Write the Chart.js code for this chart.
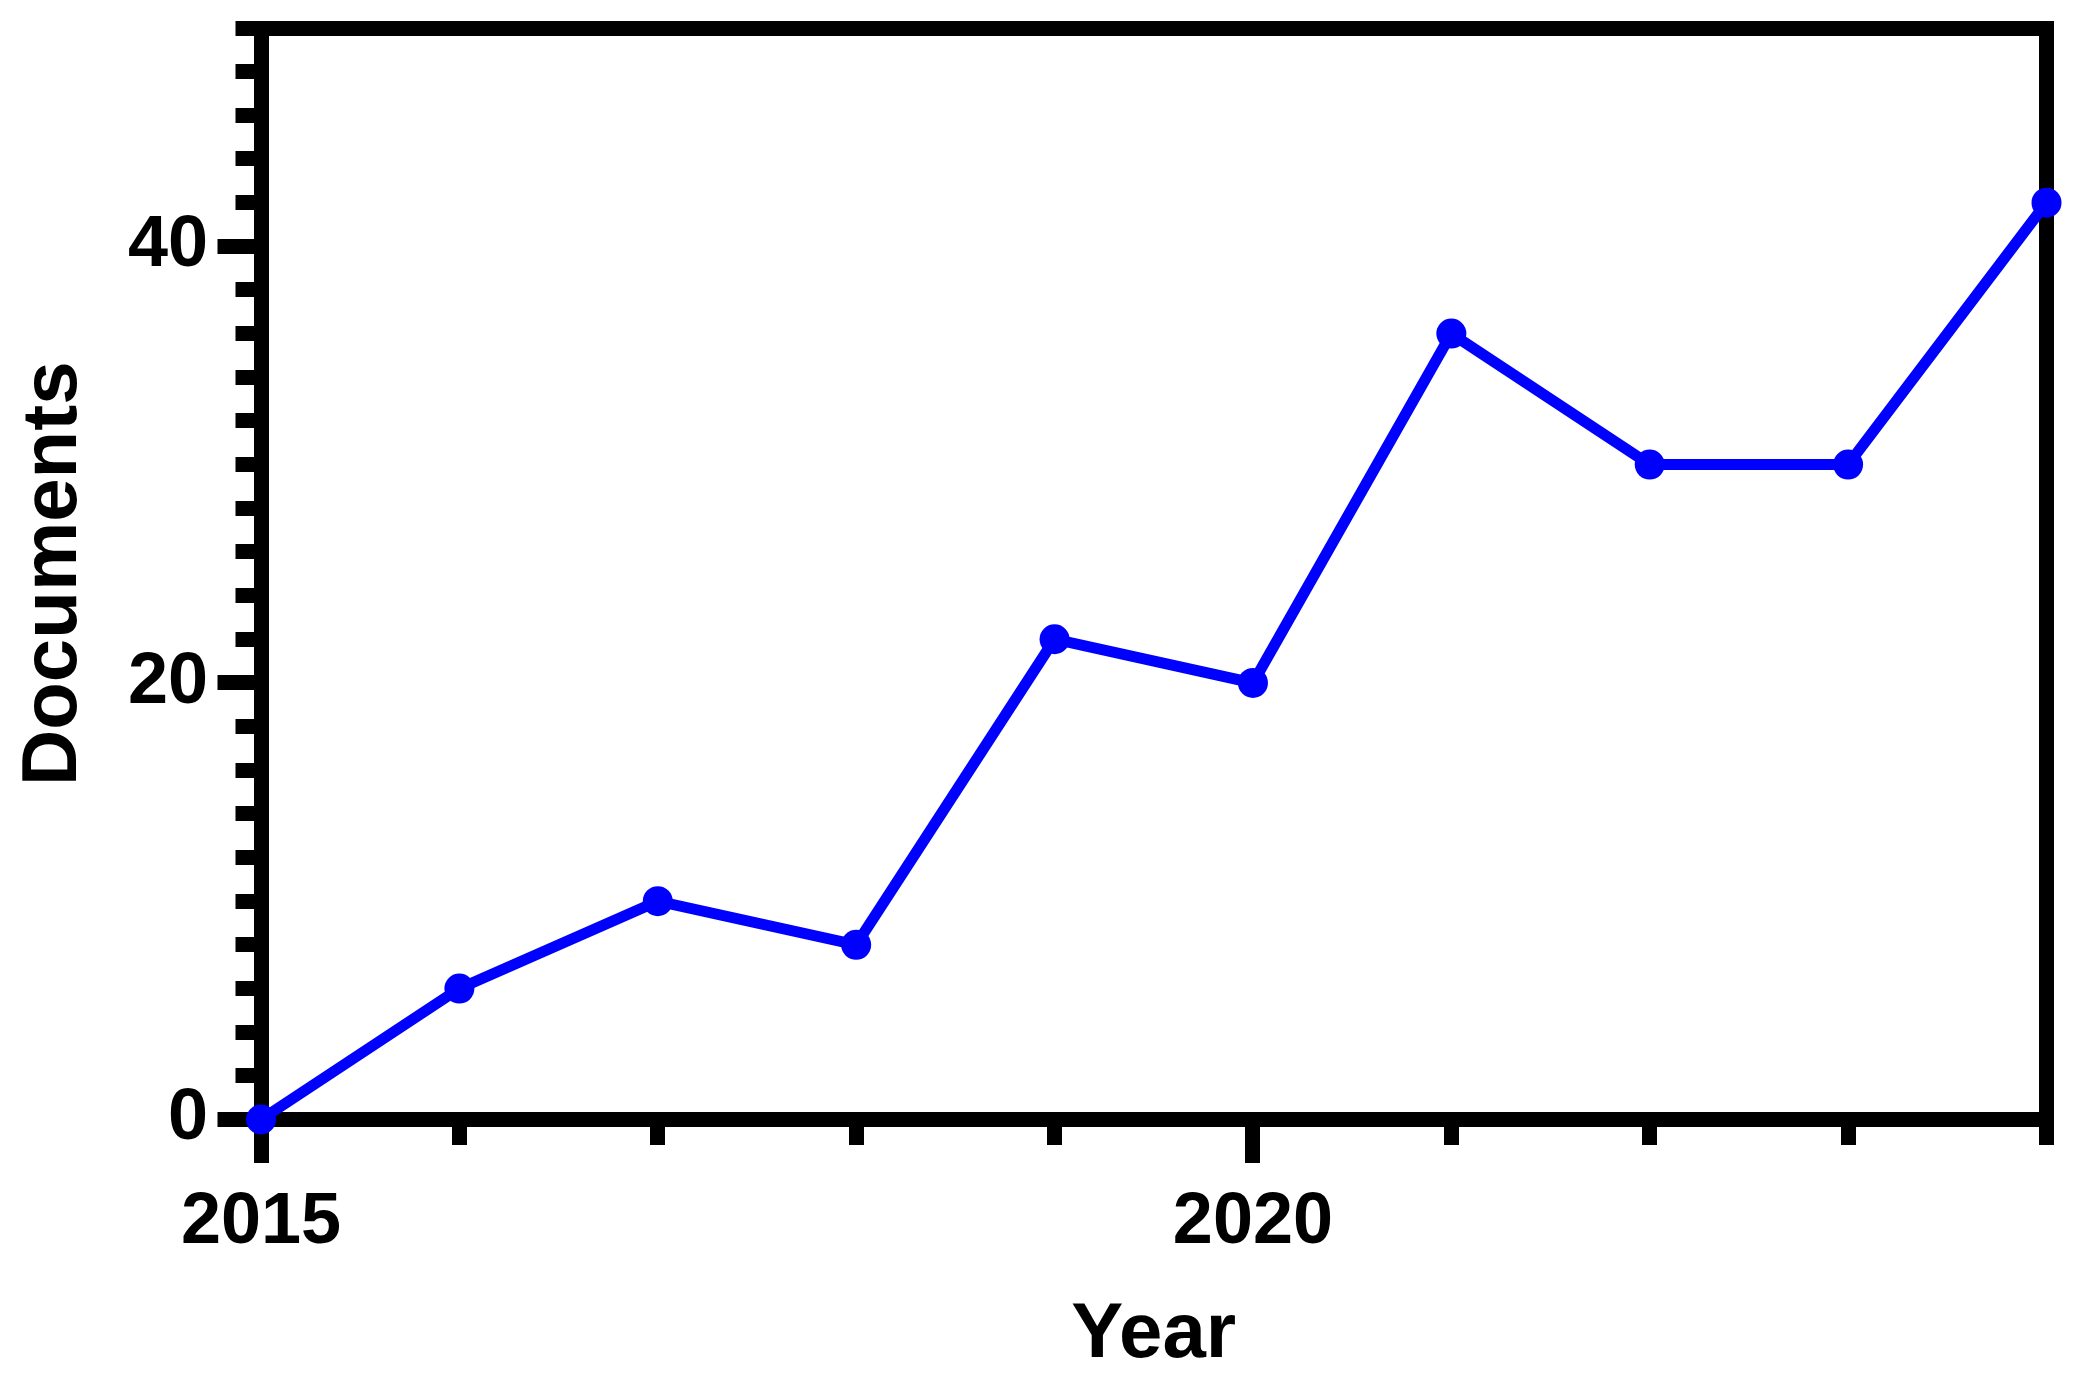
<!DOCTYPE html>
<html><head><meta charset="utf-8">
<script src="https://cdn.jsdelivr.net/npm/chart.js@4/dist/chart.umd.min.js"></script>
<style>html,body{margin:0;padding:0;background:#fff;} #wrap{position:relative;width:2075px;height:1388px;}</style>
</head><body><div id="wrap"><canvas id="c"></canvas></div>
<script>
const years = [2015, 2016, 2017, 2018, 2019, 2020, 2021, 2022, 2023, 2024];
const documents = [0, 6, 10, 8, 22, 20, 36, 30, 30, 42];
const xLabelTicks = [2015, 2020];
const yLabelTicks = [0, 20, 40];
const xTitle = 'Year';
const yTitle = 'Documents';

const FONT = "'Liberation Sans', Arial, Helvetica, sans-serif";
const AXIS_W = 15, MINOR = 25.5, MAJOR = 43.5;

const majorTicks = {
  id: 'majorTicks',
  beforeDatasetsDraw(chart) {
    const {ctx, chartArea, scales} = chart;
    const x = scales.x, y = scales.y;
    const align = p => Math.round(p - AXIS_W / 2) + AXIS_W / 2;
    ctx.save();
    ctx.strokeStyle = '#000';
    ctx.lineWidth = AXIS_W;
    ctx.lineCap = 'butt';
    const yb = align(chartArea.bottom);
    xLabelTicks.forEach(v => {
      const px = align(x.getPixelForValue(v));
      ctx.beginPath(); ctx.moveTo(px, yb); ctx.lineTo(px, chartArea.bottom + MAJOR); ctx.stroke();
    });
    const xl = align(chartArea.left);
    yLabelTicks.forEach(v => {
      const py = align(y.getPixelForValue(v));
      ctx.beginPath(); ctx.moveTo(xl, py); ctx.lineTo(chartArea.left - MAJOR, py); ctx.stroke();
    });
    ctx.restore();
  }
};

const tickFont = {family: FONT, size: 72, weight: 'bold'};
const titleFont = {family: FONT, size: 78, weight: 'bold'};

new Chart(document.getElementById('c'), {
  type: 'line',
  data: {
    datasets: [{
      data: years.map((yr, i) => ({x: yr, y: documents[i]})),
      borderColor: '#0000FF',
      backgroundColor: '#0000FF',
      borderWidth: 11,
      pointRadius: 15,
      pointHoverRadius: 15,
      pointBorderWidth: 0,
      pointBackgroundColor: '#0000FF',
      tension: 0,
      fill: false,
      clip: false
    }]
  },
  options: {
    responsive: true,
    maintainAspectRatio: false,
    animation: false,
    devicePixelRatio: 1,
    events: [],
    layout: {padding: {top: 28, right: 28.5, left: 0, bottom: 0}},
    plugins: {legend: {display: false}, tooltip: {enabled: false}},
    scales: {
      x: {
        type: 'linear', axis: 'x', position: 'bottom', min: 2015, max: 2024,
        ticks: {stepSize: 1, autoSkip: false, maxRotation: 0, minRotation: 0, padding: 35, color: '#000', font: tickFont,
          callback: v => xLabelTicks.includes(v) ? String(v) : ''},
        grid: {display: true, drawOnChartArea: false, drawTicks: true, tickLength: MINOR, lineWidth: AXIS_W, tickWidth: AXIS_W, tickColor: '#000', color: '#000'},
        border: {display: true, width: AXIS_W, color: '#000'},
        title: {display: true, text: xTitle, color: '#000', font: titleFont, padding: {top: 0, bottom: 6}},
        afterFit: s => { s.height = 268.5; s.paddingLeft = 0; s.paddingRight = 0; }
      },
      y: {
        type: 'linear', axis: 'y', position: 'left', min: 0, max: 50,
        ticks: {stepSize: 2, autoSkip: false, padding: 27.5, color: '#000', font: tickFont,
          callback: v => yLabelTicks.includes(v) ? String(v) : ''},
        grid: {display: true, drawOnChartArea: false, drawTicks: true, tickLength: MINOR, lineWidth: AXIS_W, tickWidth: AXIS_W, tickColor: '#000', color: '#000'},
        border: {display: true, width: AXIS_W, color: '#000'},
        title: {display: true, text: yTitle, color: '#000', font: titleFont, padding: {top: 8, bottom: 0}},
        afterFit: s => { s.width = 261; s.paddingTop = 0; s.paddingBottom = 0; }
      },
      x2: {
        type: 'linear', axis: 'x', position: 'top', min: 2015, max: 2024,
        ticks: {display: false},
        grid: {display: false, lineWidth: AXIS_W},
        border: {display: true, width: AXIS_W, color: '#000'},
        afterFit: s => { s.height = 0; s.paddingLeft = 0; s.paddingRight = 0; }
      },
      y2: {
        type: 'linear', axis: 'y', position: 'right', min: 0, max: 50,
        ticks: {display: false},
        grid: {display: false, lineWidth: AXIS_W},
        border: {display: true, width: AXIS_W, color: '#000'},
        afterFit: s => { s.width = 0; s.paddingTop = 0; s.paddingBottom = 0; }
      }
    }
  },
  plugins: [majorTicks]
});
</script>
</body></html>
